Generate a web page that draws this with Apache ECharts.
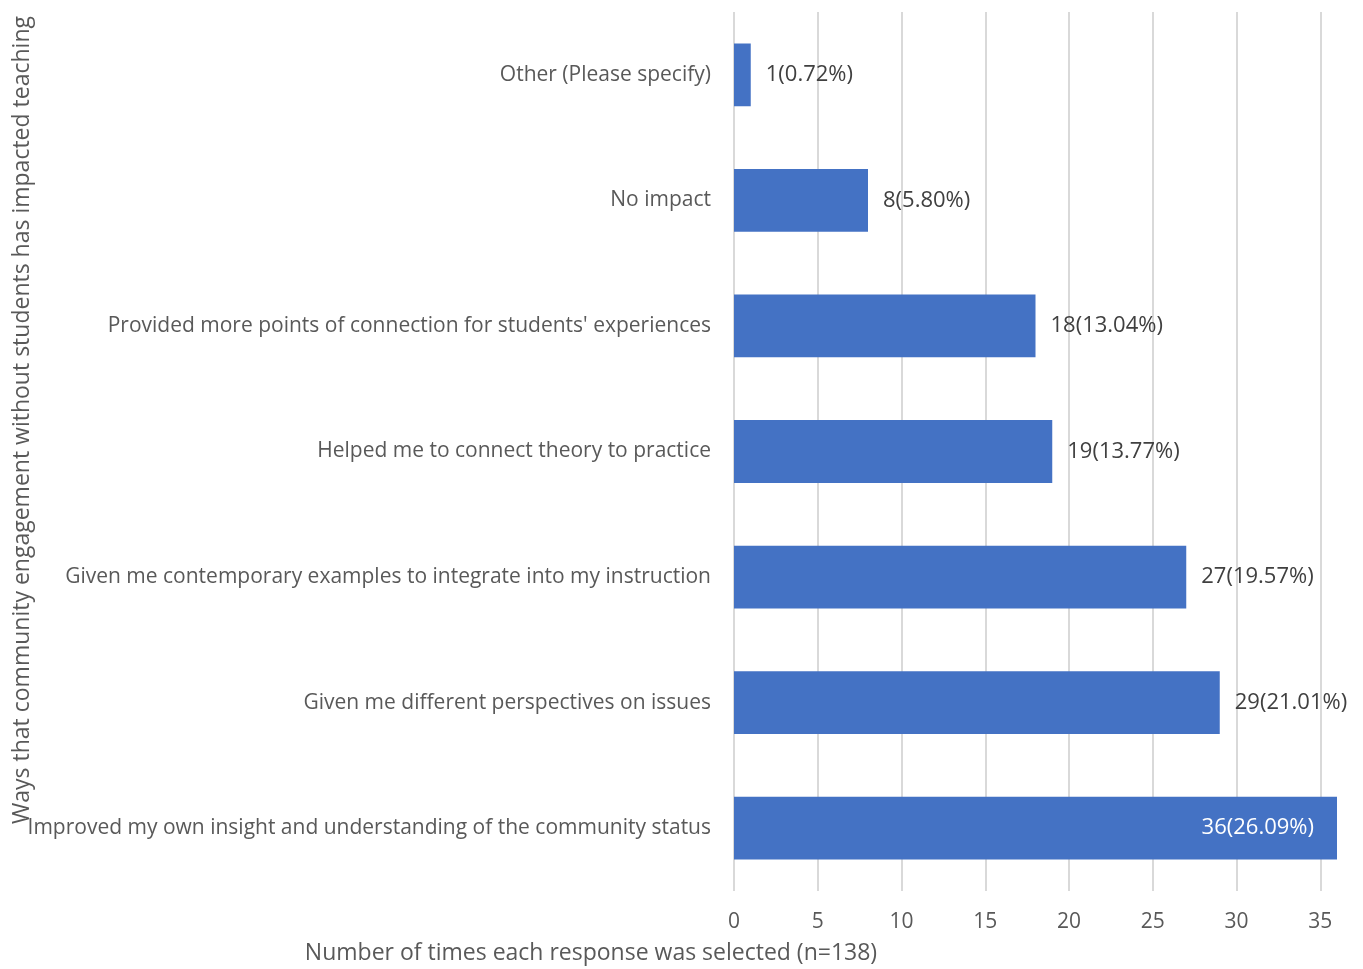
<!DOCTYPE html>
<html><head><meta charset="utf-8">
<script src="https://cdn.jsdelivr.net/npm/echarts@6/dist/echarts.min.js"></script>
<style>html,body{margin:0;padding:0;background:#fff}#c{width:1363px;height:969px}</style>
</head><body><div id="c"></div>
<script>
const categories = [
  "Other (Please specify)",
  "No impact",
  "Provided more points of connection for students' experiences",
  "Helped me to connect theory to practice",
  "Given me contemporary examples to integrate into my instruction",
  "Given me different perspectives on issues",
  "Improved my own insight and understanding of the community status"
];
const counts = [1, 8, 18, 19, 27, 29, 36];
const percents = ["0.72%", "5.80%", "13.04%", "13.77%", "19.57%", "21.01%", "26.09%"];
const xTicks = [0, 5, 10, 15, 20, 25, 30, 35];
const yTitle = "Ways that community engagement without students has impacted teaching";
const xTitle = "Number of times each response was selected (n=138)";

const FONT = "Open Sans";
const chart = echarts.init(document.getElementById('c'));
const data = counts.map((v, i) => {
  const d = { value: v };
  if (i === counts.length - 1) {
    d.label = { position: 'insideRight', color: '#ffffff', distance: 23 };
  }
  return d;
});
chart.setOption({
  animation: false,
  textStyle: { fontFamily: FONT },
  grid: { left: 734, right: 26, top: 12, bottom: 78, containLabel: false },
  xAxis: {
    type: 'value', min: 0, max: 36, interval: 5,
    axisLine: { show: false }, axisTick: { show: false },
    splitLine: { show: true, showMaxLine: false, lineStyle: { color: '#d9d9d9', width: 2 } },
    axisLabel: {
      color: '#595959', fontSize: 21, fontFamily: FONT, margin: 21, showMaxLabel: false,
      formatter: v => xTicks.includes(v) ? String(v) : ''
    }
  },
  yAxis: {
    type: 'category', data: categories, inverse: true,
    axisLine: { show: false }, axisTick: { show: false },
    axisLabel: { color: '#595959', fontSize: 21, fontFamily: FONT, margin: 23 }
  },
  series: [{
    type: 'bar', data: data, barWidth: '50%',
    itemStyle: { color: '#4472c4' },
    label: {
      show: true, position: 'right', distance: 15,
      color: '#404040', fontSize: 22, fontFamily: FONT,
      formatter: p => p.value + '(' + percents[p.dataIndex] + ')'
    }
  }],
  graphic: [
    { type: 'text', x: 591, y: 953, style: { text: xTitle, fill: '#595959', font: '23px "Open Sans"', textAlign: 'center', textVerticalAlign: 'middle' } },
    { type: 'text', x: 22, y: 420, rotation: Math.PI / 2, style: { text: yTitle, fill: '#595959', font: '23px "Open Sans"', textAlign: 'center', textVerticalAlign: 'middle' } }
  ]
});
</script></body></html>
